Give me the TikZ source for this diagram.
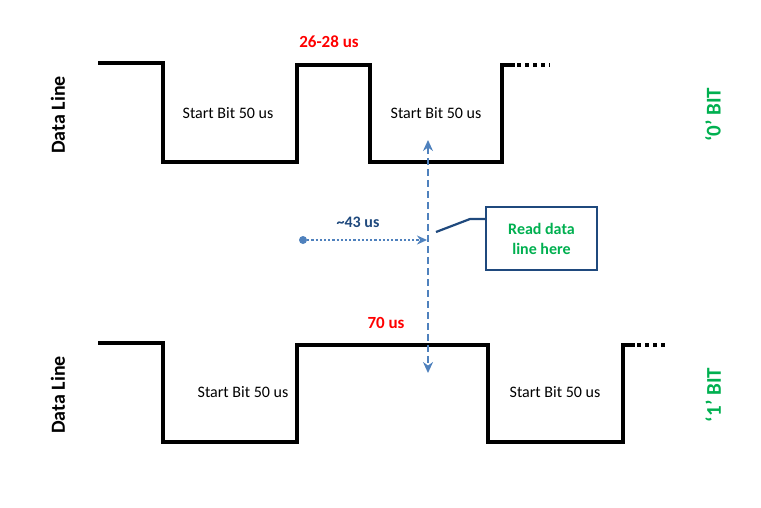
\documentclass[tikz,border=0pt]{standalone}
\usepackage{fontspec}
\setmainfont{Carlito}
\usetikzlibrary{arrows.meta,positioning}
\definecolor{sigblue}{HTML}{4F81BD}
\definecolor{darkblue}{HTML}{1F497D}
\definecolor{bitgreen}{HTML}{00B050}
\begin{document}
\begin{tikzpicture}[
x=1pt,y=-1pt,
Wave/.style={draw=black,line width=3.6pt,line join=miter},
Dots/.style={draw=black,line width=3.6pt,dash pattern=on 4pt off 4pt},
TextMid/.style={font=\fontsize{16}{19}\selectfont},
LineLabel/.style={font=\fontsize{20}{24}\selectfont\bfseries,rotate=90},
BitLabel/.style={font=\fontsize{21}{25}\selectfont\bfseries,text=bitgreen,rotate=90},
TimeLabel/.style={font=\fontsize{17}{20}\selectfont\bfseries,text=red},
every node/.style={inner sep=1pt}
]
\useasboundingbox (0,0) rectangle (761,507);

% top waveform: '0' bit
\draw[Wave] (98,63) -- (163,63) -- (163,162) -- (297,162) -- (297,65) -- (370,65)
  -- (370,162) -- (502,162) -- (502,65) -- (515,65);
\draw[Dots] (517,65) -- (550,65);
% bottom waveform: '1' bit
\draw[Wave] (98,343) -- (163,343) -- (163,442) -- (297,442) -- (297,345) -- (488,345)
  -- (488,442) -- (623,442) -- (623,345) -- (635,345);
\draw[Dots] (637,345) -- (668,345);

\node[TextMid] (s1) at (228,113) {Start Bit 50 us};
\node[TextMid] (s2) at (436,113) {Start Bit 50 us};
\node[TextMid] (s3) at (243,392) {Start Bit 50 us};
\node[TextMid] (s4) at (555,392) {Start Bit 50 us};

\node[TimeLabel] (t0) at (329,42) {26-28 us};
\node[TimeLabel] (t1) at (386,323) {70 us};

\node[LineLabel] (dl0) at (58,115) {Data Line};
\node[LineLabel] (dl1) at (58,395) {Data Line};
\node[BitLabel] (b0) at (713,115) {‘0’ BIT};
\node[BitLabel] (b1) at (713,395) {‘1’ BIT};

% sampling point
\coordinate (top) at (428,140);
\coordinate (bot) at (428,373);
\draw[sigblue,line width=2.2pt,dash pattern=on 7pt off 4pt,{Stealth[length=11pt,width=10pt]}-{Stealth[length=11pt,width=10pt]}] (top) -- (bot);

\fill[sigblue] (303,240) circle (4pt) coordinate (start);
\coordinate (end) at (427,240);
\draw[sigblue,line width=2.2pt,dotted,-{Stealth[length=10pt,width=9pt]}] (start) -- (end);
\node[font=\fontsize{16}{19}\selectfont\bfseries,text=darkblue] (t43) at (358,222) {\textasciitilde43 us};

\node[draw=darkblue,line width=2pt,fill=white,minimum width=111pt,minimum height=63pt,
  align=center,font=\fontsize{16}{20}\selectfont\bfseries,text=bitgreen] (read) at (541.5,238.5) {Read data\\line here};
\coordinate (knee) at (470,219);
\draw[darkblue,line width=2.2pt] (436,232) -- (knee) -- (knee -| read.west);
\end{tikzpicture}
\end{document}
